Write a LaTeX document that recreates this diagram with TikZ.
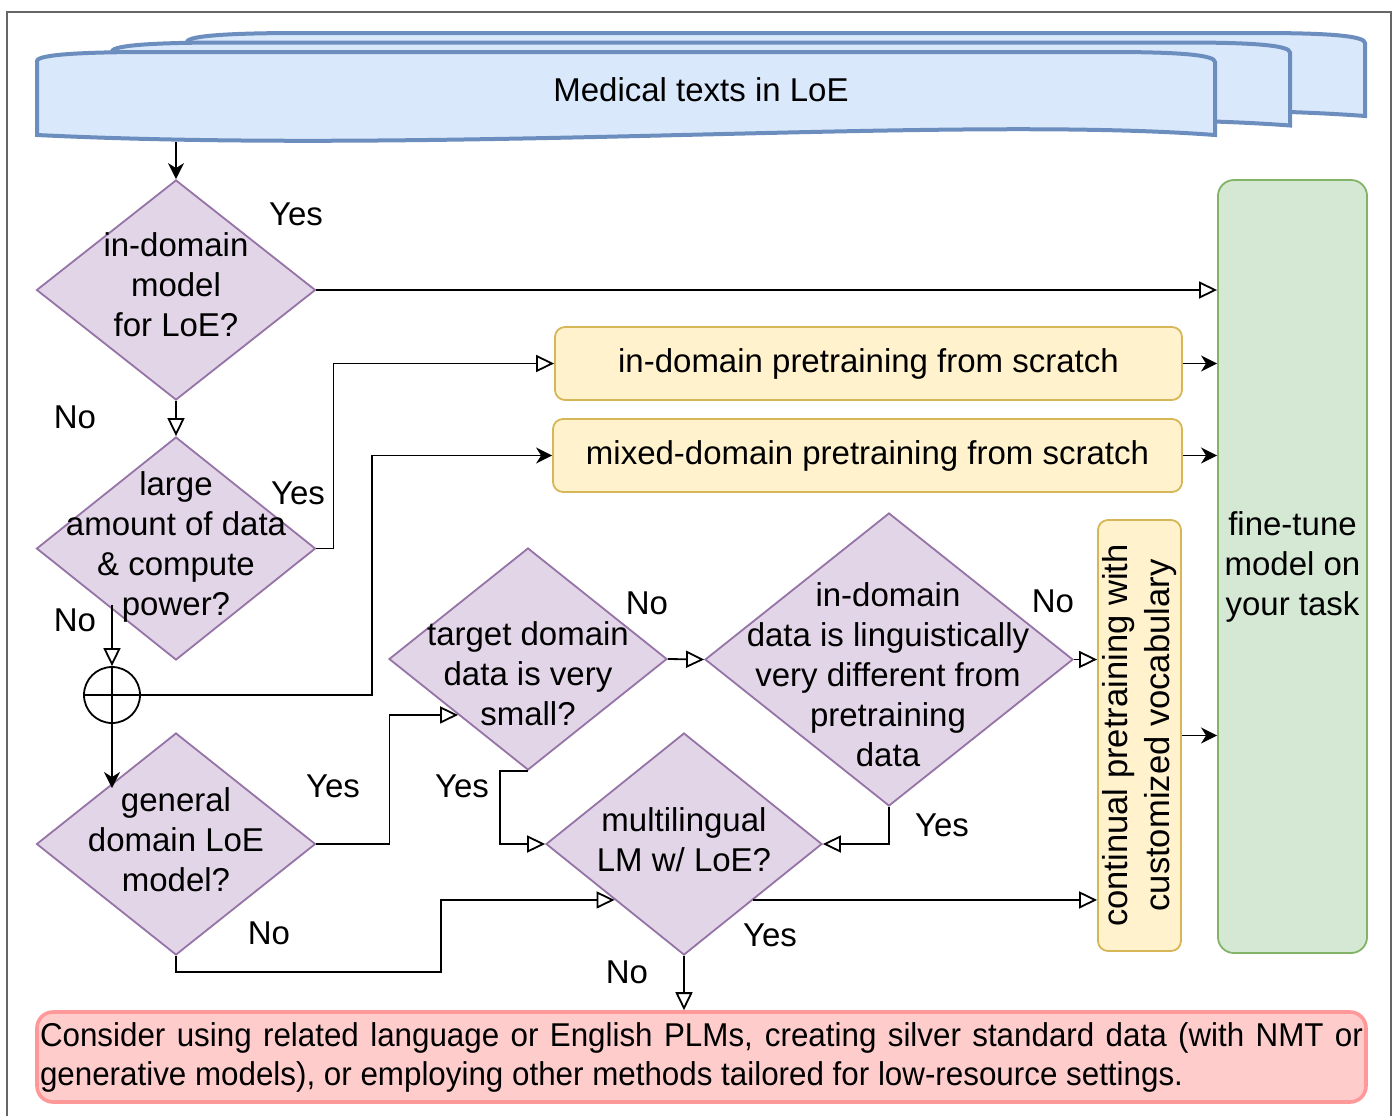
\documentclass[tikz,border=0pt]{standalone}
\usepackage{fontspec}
\setmainfont{Liberation Sans}
\newfontfamily\narrowfont[FakeStretch=0.95]{Liberation Sans}
\usetikzlibrary{arrows.meta, shapes.geometric}
\definecolor{docfill}{HTML}{DAE8FC}
\definecolor{docline}{HTML}{6C8EBF}
\definecolor{qfill}{HTML}{E1D5E7}
\definecolor{qline}{HTML}{9673A6}
\definecolor{stepfill}{HTML}{FFF2CC}
\definecolor{stepline}{HTML}{D6B656}
\definecolor{tunefill}{HTML}{D5E8D4}
\definecolor{tuneline}{HTML}{82B366}
\definecolor{notefill}{HTML}{FFCCCC}
\definecolor{noteline}{HTML}{FF9999}
\tikzset{
    decision/.style 2 args={diamond, draw=qline, fill=qfill, line width=0.9pt, inner sep=0pt, minimum width=#1, minimum height=#2}, % question diamond
    stepbox/.style={draw=stepline, fill=stepfill, line width=0.9pt, rounded corners=5pt, inner sep=0pt}, % pretraining option
    docpage/.style={draw=docline, fill=docfill, line width=2pt}, % stacked medical texts
    flow/.style={line width=0.9pt, -{Triangle[open, length=9pt, width=8.5pt]}}, % open arrow
    goes/.style={line width=0.9pt, -{Stealth[length=8pt, width=8pt, inset=2.5pt]}}, % filled arrow
    answer/.style={inner sep=0pt} % Yes / No
}

\begin{document}
\begin{tikzpicture}[x=0.5pt, y=-0.5pt, font=\fontsize{16.5pt}{20pt}\selectfont]
    \useasboundingbox (0,0) rectangle (1394,1116);
    \draw[black!60, line width=1pt] (7,1116) |- (1391,12) -- (1391,1116);

    % stacked pages
    \foreach \dx/\dy in {150/-19, 75/-9.5, 0/0} {
        \filldraw[docpage, shift={(\dx,\dy)}] (37,135) -- (37,61) .. controls (37,54) and (90,52) .. (150,52) -- (1110,52) .. controls (1180,52) and (1215,55) .. (1215,62) -- (1215,135) .. controls (950,115) and (450,155) .. (37,135) -- cycle;
    }
    \node (doc) at (701,90) {Medical texts in LoE};
    \coordinate (docout) at (176,142);

    % questions
    \node[decision={139.5pt}{110pt}] (q1) at (176,290) {};
    \node[align=center] at (176,285) {in-domain\\model\\for LoE?};
    \node[decision={139.5pt}{111.5pt}] (q2) at (176,548.5) {};
    \node[align=center] at (176,547) {large\\amount of data\\\& compute\\power?};
    \node[decision={139.5pt}{111pt}] (q3) at (176,844) {};
    \node[align=center] at (176,840) {general\\domain LoE\\model?};
    \node[decision={139pt}{111pt}] (q4) at (528,659) {};
    \node[align=center] at (528,674) {target domain\\data is very\\small?};
    \node[decision={184pt}{146.5pt}] (q5) at (889,659.5) {};
    \node[align=center] at (888,675) {in-domain\\data is linguistically\\very different from\\pretraining\\data};
    \node[decision={138pt}{111pt}] (q6) at (684,844) {};
    \node[align=center] at (684,840) {multilingual\\LM w/ LoE?};
    \node[circle, draw, line width=0.9pt, inner sep=0pt, minimum size=28pt] (circ) at (112,695) {};
    \draw[line width=0.9pt] (circ.north) -- (circ.south) (circ.west) -- (circ.east);

    % outcomes
    \node[stepbox, minimum width=313.5pt, minimum height=36.5pt] (pre1) at (868.5,363.5) {in-domain pretraining from scratch};
    \node[stepbox, minimum width=314.5pt, minimum height=36.5pt] (pre2) at (867.5,455.5) {mixed-domain pretraining from scratch};
    \node[stepbox, minimum width=41.5pt, minimum height=215.5pt] (cont) at (1139.5,735.5) {};
    \node[rotate=90, align=center, font=\fontsize{17.3pt}{21pt}\selectfont] at (cont) {continual pretraining with\\customized vocabulary};
    \node[draw=tuneline, fill=tunefill, line width=0.9pt, rounded corners=8pt, minimum width=73.5pt, minimum height=386.5pt, align=center] (tune) at (1292.5,566.5) {fine-tune\\model on\\your task};
    \node[draw=noteline, fill=notefill, line width=1.8pt, rounded corners=8pt, inner sep=0pt, minimum width=664.5pt, minimum height=45pt, text width=661.5pt, align=justify,
          font=\narrowfont\fontsize{16.5pt}{19.5pt}\selectfont] (note) at (701.5,1057)
        {\tolerance=9999\relax Consider using related language or English PLMs, creating silver standard data (with NMT or\linebreak generative models), or employing other methods tailored for low-resource settings.};

    % connectors
    \draw[goes] (docout) -- (q1.north);
    \draw[flow] (q1.east) -- (q1.east -| tune.west);
    \draw[flow] (q1.south) -- (q2.north);
    \draw[flow] (q2.east) -- ++(17,0) |- (pre1.west);
    \draw[flow] (q2.south west -| circ.north) -- (circ.north);
    \draw[goes] (circ.east) -- ++(231,0) |- (pre2.west);
    \draw[goes] (circ.south) -- (circ.south |- q3.north west);
    \draw[flow] (q3.east) -- ++(73,0) |- (q4.south west);
    \draw[flow] (q3.south) -- ++(0,16) -- ++(265,0) |- (q6.south west);
    \draw[flow] (q4.east) -- (q5.west);
    \draw[flow] (q4.south) -- ++(-28,0) |- (q6.west);
    \draw[flow] (q5.east) -- (q5.east -| cont.west);
    \draw[flow] (q5.south) |- (q6.east);
    \draw[flow] (q6.south east) -- (q6.south east -| cont.west);
    \draw[flow] (q6.south) -- (q6.south |- note.north);
    \draw[goes] (pre1.east) -- (pre1.east -| tune.west);
    \draw[goes] (pre2.east) -- (pre2.east -| tune.west);
    \draw[goes] (cont.east) -- (cont.east -| tune.west);

    % answers
    \foreach \x/\y/\t in {296/214/Yes, 75/417/No, 298/493/Yes, 75/620/No, 333/786/Yes, 269/933/No,
                          647/603/No, 462/786/Yes, 1053/601/No, 942/825/Yes, 770/935/Yes, 627/972/No} {
        \node[answer] at (\x,\y) {\t};
    }
\end{tikzpicture}
\end{document}
